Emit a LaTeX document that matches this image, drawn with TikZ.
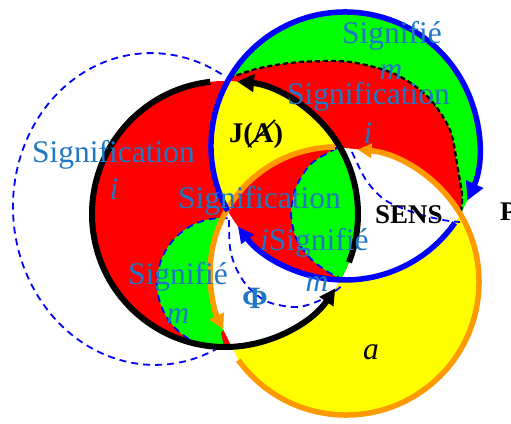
\documentclass[tikz,border=0pt]{standalone}
\usepackage{fontspec}
\setmainfont{Liberation Serif}
\usetikzlibrary{arrows.meta,calc}
\definecolor{cred}{RGB}{255,0,0}
\definecolor{cgreen}{RGB}{0,255,0}
\definecolor{cyellow}{RGB}{255,255,0}
\definecolor{corange}{RGB}{255,153,0}
\definecolor{cblue}{RGB}{0,0,255}
\definecolor{tblue}{RGB}{31,120,196}
% the three main rings and the dashed boundary of the inner red band
\newcommand\pathK{(225,214) circle (133)}
\newcommand\pathB{(345,146) circle (134)}
\newcommand\pathO{(336,273) ++(269.5:126) arc[start angle=269.5,end angle=153.4,radius=126] -- ($(346,282)+(144:133)$) arc[start angle=144,end angle=-85,radius=133] -- cycle}
\newcommand\curveD{plot[smooth] coordinates {(229,78) (260,68) (300,62) (350,62) (395,74) (428,97) (450,130) (458,170) (462,195) (461,212)}}
\begin{document}
\begin{tikzpicture}[x=1pt,y=-1pt,
  kline/.style={line width=6pt, black},
  bline/.style={line width=5.5pt, cblue},
  oline/.style={line width=5.5pt, corange},
  bdash/.style={cblue, line width=1.8pt, dash pattern=on 7pt off 5pt},
  kdash/.style={black, line width=2.3pt, dash pattern=on 5pt off 3pt},
  wordlbl/.style={inner sep=0pt, text=tblue, font=\fontsize{31.5}{36}\selectfont},
  varlbl/.style={inner sep=0pt, text=tblue, font=\fontsize{31.5}{36}\selectfont\itshape},
  boldlbl/.style={inner sep=0pt, text=black, font=\fontsize{27}{32}\selectfont\bfseries}]
\useasboundingbox (0,0) rectangle (511,423);

% --- coloured regions ---
\fill[cred] \pathK;
\begin{scope}
  \clip \pathB;
  \fill[cgreen] \pathB;
  \fill[cred] \curveD -- (410,190) -- (340,170) -- (240,110) -- cycle;
  \fill[cyellow] \pathK;
\end{scope}
% lower green lens
\fill[cgreen] (222,283) ++(275:65) arc[start angle=275,end angle=88,radius=65]
  -- (221,333) -- (245,300) -- (255,225) -- cycle;
\fill[cyellow] \pathO;
\begin{scope}
  \clip \pathO;
  \fill[white] \pathB;
  \fill[cred] \pathK;
  \clip \pathK;
  \fill[cgreen] plot[smooth] coordinates {(337,148) (312,163) (297,185) (291,212) (296,238) (310,258) (328,272) (345,281)}
    -- (420,281) -- (420,140) -- cycle;
  \fill[white, even odd rule] (0,0) rectangle (511,423) \pathB;
\end{scope}

% --- dashed boundaries ---
% large tilted ellipse on the left
\draw[bdash] plot[domain=-294:-56, samples=90, variable=\t]
  ({153 + 140*cos(\t)*0.9979 + 156*sin(\t)*0.0645}, {209 - 140*cos(\t)*0.0645 + 156*sin(\t)*0.9979});
\draw[bdash] (222,283) ++(275:65) arc[start angle=275,end angle=88,radius=65];
\draw[bdash] plot[smooth] coordinates {(229,220) (230,248) (236,268) (248,287) (268,302) (298,307) (325,298) (344,284)};
\draw[bdash] plot[smooth] coordinates {(337,148) (312,163) (297,185) (291,212) (296,238) (310,258) (328,272) (342,279)};
\draw[bdash] plot[smooth] coordinates {(352,152) (366,180) (385,200) (415,213) (443,220) (460,222)};
\draw[kdash] \curveD;

% --- thick rings with arrows ---
\draw[oline, -{Triangle[length=14pt,width=14pt]}] (346,282) ++(144:133) arc[start angle=144,end angle=-85,radius=133];
\draw[oline, -{Triangle[length=15pt,width=15pt]}] (336,273) ++(269.5:126) arc[start angle=269.5,end angle=153.4,radius=126];
\draw[kline, -{Triangle[length=16pt,width=16pt]}] (225,214) ++(263.6:133) arc[start angle=263.6,end angle=34,radius=133];
\draw[kline, -{Triangle[length=17pt,width=17pt]}] (225,214) ++(21.3:133) arc[start angle=21.3,end angle=-84.8,radius=133];
\draw[bline, -{Triangle[length=18pt,width=18pt]}] (345,146) ++(151:134) arc[start angle=151,end angle=384,radius=134];
\draw[bline, -{Triangle[length=16pt,width=15pt]}] (345,146) ++(35:134) arc[start angle=35,end angle=143,radius=134];

% --- labels ---
\node[wordlbl, anchor=base west] (sigL) at (32,162) {Signification};
\node[varlbl, anchor=base] (iL) at (114,199) {i};
\node[wordlbl, anchor=base west] (sifT) at (342,43) {Signifié};
\node[varlbl, anchor=base] (mT) at (391,79) {m};
\node[wordlbl, anchor=base west] (sigT) at (287,104) {Signification};
\node[varlbl, anchor=base] (iT) at (368,143) {i};
\node[boldlbl, font=\fontsize{28.5}{32}\selectfont\bfseries, anchor=base west] (ja) at (229,142) {J(A)};
\draw[line width=1.6pt] ($(ja.base west)+(19,5)$) -- ($(ja.base west)+(46,-22)$);
\node[wordlbl, anchor=base west] (sigC) at (178,208) {Signification};
\node[wordlbl, anchor=base west] (isC) at (260,250) {\textit{i}Signifié};
\node[varlbl, anchor=base] (mC) at (317,291) {m};
\node[wordlbl, anchor=base west] (sifL) at (128,284) {Signifié};
\node[varlbl, anchor=base] (mL) at (178,323) {m};
\node[inner sep=0pt, text=tblue, font=\fontsize{31}{34}\selectfont\bfseries, anchor=base] (phi) at (255,308) {Φ};
\node[varlbl, text=black, anchor=base] (avar) at (371,359) {a};
\node[boldlbl, anchor=base west] (sens) at (375,223) {SENS};
\node[boldlbl, anchor=base west] (pp) at (500,220) {P};
\end{tikzpicture}
\end{document}
